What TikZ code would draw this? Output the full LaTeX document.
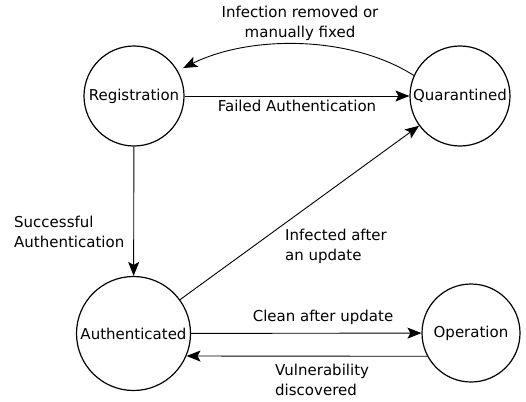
\documentclass[tikz,border=0pt]{standalone}
\usepackage{fontspec}
\setmainfont{DejaVu Sans}
\usetikzlibrary{arrows.meta}
\begin{document}
\begin{tikzpicture}[x=1pt,y=-1pt,
  state/.style={circle,draw,line width=1.2pt,inner sep=0pt,font=\fontsize{15}{20}\selectfont},
  lbl/.style={inner sep=0pt,font=\fontsize{15}{20}\selectfont},
  conn/.style={line width=0.9pt,-{Stealth[length=14pt,width=11pt,inset=3pt]}}]
\useasboundingbox (0,0) rectangle (526,401);
\node[state,minimum size=100pt] (r) at (134,96) {Registration};
\node[state,minimum size=100pt] (q) at (460,96) {Quarantined};
\node[state,minimum size=114pt] (a) at (133.5,333.5) {Authenticated};
\node[state,minimum size=98pt] (o) at (471,333) {Operation};
\draw[conn] (r) -- (q);
\draw[conn,shorten >=6pt] (q.156) .. controls (350,35) and (250,35) .. (r.30);
\draw[conn] (r) -- (a);
\draw[conn] (a) -- (q);
\draw[conn] (a) -- (o);
\draw[conn] (o.208) -- (a.-23.3);
\node[lbl,align=center] (t1) at (300,23) {Infection removed or\\manually fixed};
\node[lbl,anchor=base] (t2) at (297,111) {Failed Authentication};
\node[lbl,anchor=north west,align=left] (t3) at (14,216) {Successful\\Authentication};
\node[lbl,anchor=north west,align=left] (t4) at (285,229) {Infected after\\an update};
\node[lbl,anchor=base] (t5) at (323,321) {Clean after update};
\node[lbl,anchor=north west,align=left] (t6) at (275,364) {Vulnerability\\discovered};
\end{tikzpicture}
\end{document}
